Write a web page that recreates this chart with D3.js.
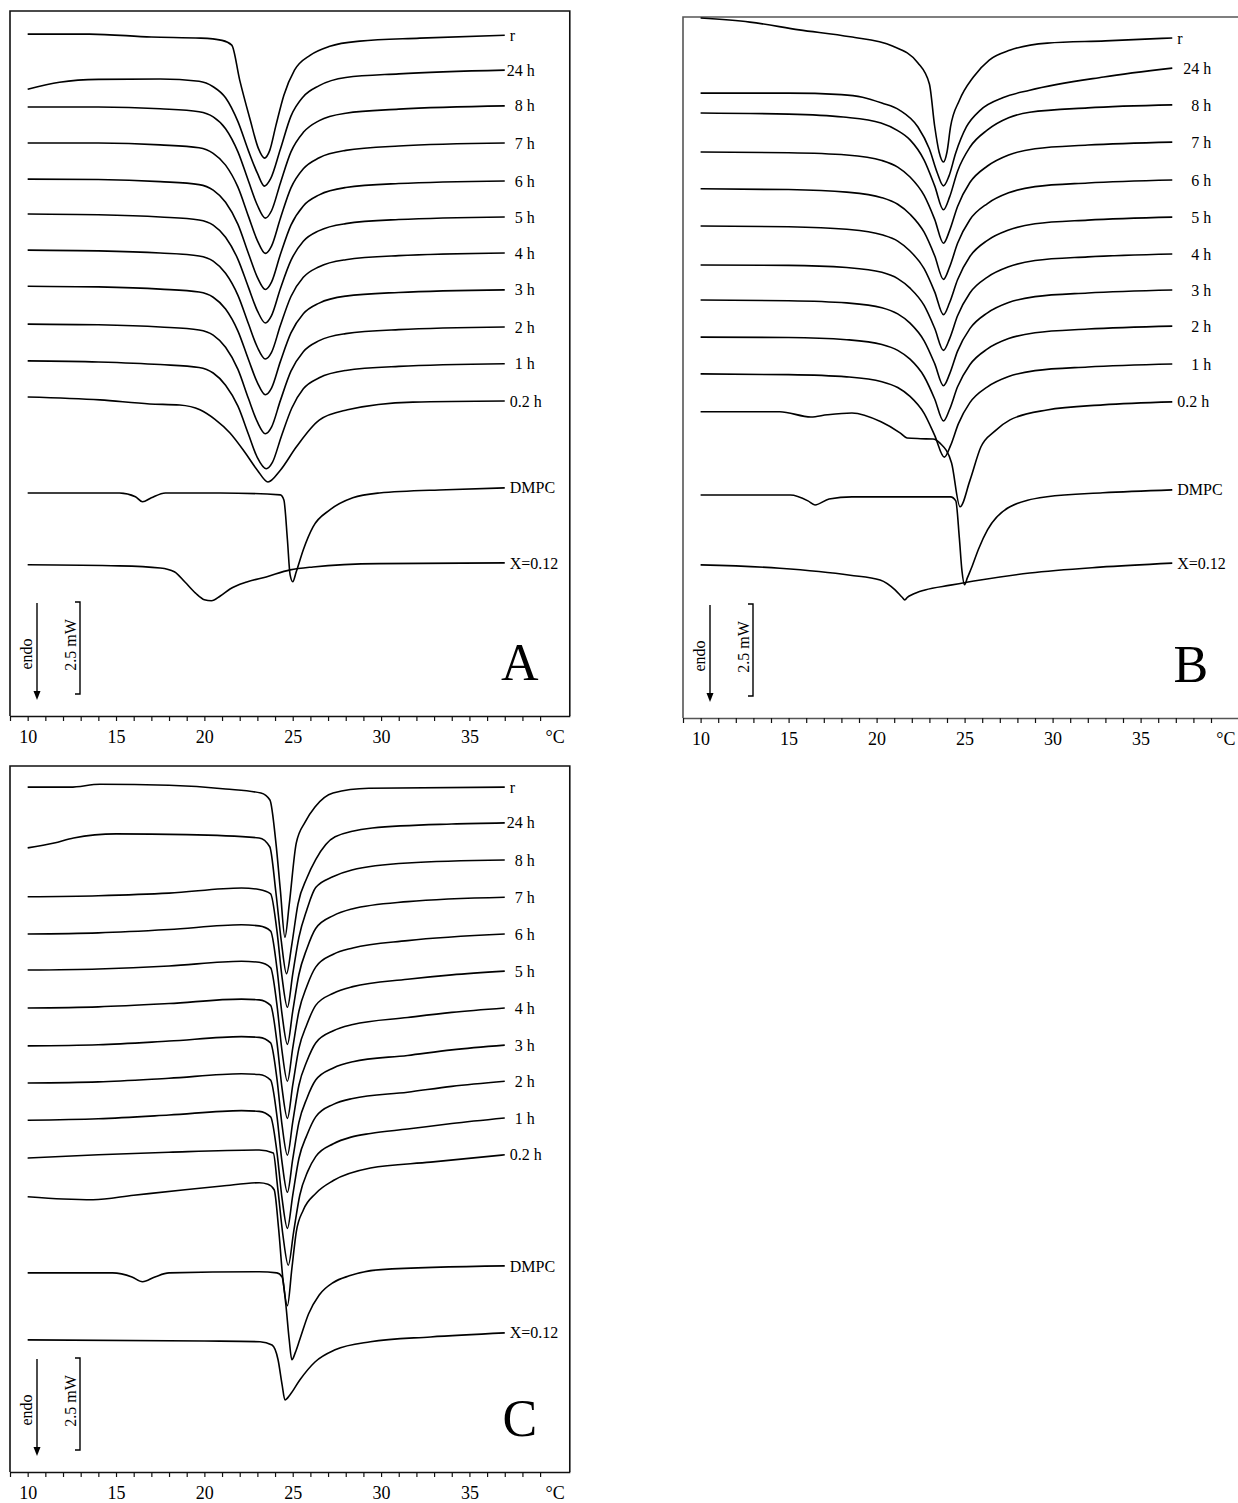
<!DOCTYPE html>
<html>
<head>
<meta charset="utf-8">
<script src="https://cdn.jsdelivr.net/npm/d3@7"></script>
<style>
body { margin: 0; background: #fff; }
text { font-family: "Liberation Serif", "DejaVu Serif", serif; fill: #000; }
</style>
</head>
<body>
<div id="chart"></div>
<script>
// DSC thermograms, three panels; each trace = [temperature °C, heat flow mW relative to its right end]
var names = ["r", "24 h", "8 h", "7 h", "6 h", "5 h", "4 h", "3 h", "2 h", "1 h", "0.2 h", "DMPC", "X=0.12"];
var xTicks = [9, 10, 11, 12, 13, 14, 15, 16, 17, 18, 19, 20, 21, 22, 23, 24, 25, 26, 27, 28, 29, 30, 31, 32, 33, 34, 35, 36, 37, 38, 39];
var xTickLabels = [10, 15, 20, 25, 30, 35];
var scaleBarMW = 2.5;

// vertical level (mW above the axis) of the right end of every trace
var levelsA = [18.5, 17.55, 16.58, 15.57, 14.54, 13.56, 12.58, 11.58, 10.57, 9.57, 8.56, 6.2, 4.16];
var levelsB = [18.48, 17.66, 16.66, 15.65, 14.62, 13.61, 12.61, 11.63, 10.65, 9.62, 8.59, 6.2, 4.21];
var levelsC = [18.61, 17.64, 16.63, 15.62, 14.62, 13.61, 12.61, 11.6, 10.62, 9.62, 8.62, 5.6, 3.78];

var curvesA = [
  [[10,0.03],[13.5,0.03],[17,-0.05],[19.8,-0.08],[21.0,-0.14],[21.55,-0.27],[22.0,-1.22],[22.6,-2.31],[23.05,-3.07],[23.4,-3.34],[23.7,-3.13],[24.05,-2.45],[24.5,-1.63],[25.1,-0.95],[26.0,-0.54],[27.1,-0.3],[28.8,-0.16],[32.2,-0.08],[37,0]],
  [[10,-0.52],[11.8,-0.33],[14,-0.25],[17.5,-0.24],[19.7,-0.3],[20.5,-0.45],[21.2,-0.75],[21.9,-1.4],[22.5,-2.2],[23.0,-2.8],[23.4,-3.15],[23.75,-2.95],[24.3,-2.15],[24.9,-1.25],[25.6,-0.72],[26.5,-0.42],[28,-0.2],[31,-0.1],[37,0]],
  [[10,-0.03],[14,-0.03],[17.5,-0.08],[19.7,-0.16],[20.5,-0.3],[21.2,-0.62],[21.9,-1.25],[22.5,-2.05],[23.0,-2.7],[23.45,-3.05],[23.8,-2.85],[24.3,-2.1],[24.9,-1.25],[25.6,-0.72],[26.5,-0.4],[28,-0.2],[31,-0.09],[37,0]],
  [[10,0],[14,0],[17.5,-0.05],[19.7,-0.13],[20.5,-0.28],[21.2,-0.6],[21.9,-1.2],[22.5,-2.0],[23.0,-2.65],[23.45,-3.0],[23.8,-2.8],[24.3,-2.05],[24.9,-1.22],[25.6,-0.7],[26.5,-0.4],[28,-0.2],[31,-0.08],[37,0]],
  [[10,0.05],[14,0.04],[17.5,-0.02],[19.7,-0.1],[20.5,-0.25],[21.2,-0.58],[21.9,-1.18],[22.5,-1.98],[23.0,-2.62],[23.45,-2.95],[23.8,-2.75],[24.3,-2.0],[24.9,-1.2],[25.6,-0.68],[26.5,-0.38],[28,-0.18],[31,-0.07],[37,0]],
  [[10,0.08],[14,0.06],[17.5,0],[19.7,-0.08],[20.5,-0.22],[21.2,-0.55],[21.9,-1.15],[22.5,-1.92],[23.0,-2.55],[23.45,-2.88],[23.8,-2.68],[24.3,-1.95],[24.9,-1.18],[25.6,-0.66],[26.5,-0.37],[28,-0.18],[31,-0.07],[37,0]],
  [[10,0.08],[14,0.06],[17.5,0],[19.7,-0.08],[20.5,-0.22],[21.2,-0.55],[21.9,-1.15],[22.5,-1.93],[23.0,-2.56],[23.45,-2.88],[23.8,-2.7],[24.3,-1.97],[24.9,-1.18],[25.6,-0.66],[26.5,-0.37],[28,-0.18],[31,-0.07],[37,0]],
  [[10,0.1],[14,0.08],[17.5,0.02],[19.7,-0.06],[20.5,-0.2],[21.2,-0.52],[21.9,-1.12],[22.5,-1.9],[23.0,-2.52],[23.45,-2.85],[23.8,-2.67],[24.3,-1.95],[24.9,-1.17],[25.6,-0.65],[26.5,-0.36],[28,-0.17],[31,-0.07],[37,0]],
  [[10,0.08],[14,0.06],[17.5,0],[19.7,-0.08],[20.5,-0.22],[21.2,-0.55],[21.9,-1.15],[22.5,-1.95],[23.0,-2.58],[23.45,-2.9],[23.8,-2.72],[24.3,-2.0],[24.9,-1.2],[25.6,-0.67],[26.5,-0.37],[28,-0.18],[31,-0.07],[37,0]],
  [[10,0.08],[14,0.05],[17.5,-0.02],[19.7,-0.1],[20.5,-0.25],[21.2,-0.58],[21.9,-1.15],[22.5,-1.92],[23.0,-2.55],[23.5,-2.85],[23.85,-2.68],[24.35,-1.98],[24.95,-1.2],[25.6,-0.68],[26.5,-0.38],[28,-0.18],[31,-0.07],[37,0]],
  [[10,0.11],[14.1,0.03],[16.9,-0.08],[18.6,-0.11],[19.75,-0.24],[20.6,-0.5],[21.45,-0.87],[22.3,-1.4],[23.0,-1.88],[23.6,-2.2],[24.3,-1.88],[25.2,-1.25],[26.5,-0.52],[28.1,-0.24],[31.8,-0.03],[37,0]],
  [[10,-0.14],[15.2,-0.14],[16.1,-0.24],[16.5,-0.38],[17.0,-0.27],[17.8,-0.14],[20.9,-0.14],[24.3,-0.19],[24.5,-0.33],[24.7,-1.41],[24.85,-2.36],[25.0,-2.55],[25.2,-2.28],[25.6,-1.68],[26.15,-1.06],[27.1,-0.6],[28.4,-0.27],[29.9,-0.14],[33.7,-0.05],[37,0]],
  [[10,-0.05],[15.2,-0.08],[17.5,-0.14],[18.3,-0.24],[18.9,-0.52],[19.5,-0.82],[20.0,-1.0],[20.4,-1.03],[20.9,-0.9],[21.45,-0.71],[22.4,-0.52],[23.5,-0.38],[24.85,-0.19],[26.15,-0.11],[29.9,-0.02],[37,0]]
];

var curvesB = [
  [[10,0.54],[12.8,0.43],[15.6,0.22],[18.5,0.03],[20.9,-0.22],[22.35,-0.68],[23.0,-1.25],[23.3,-2.4],[23.55,-3.1],[23.8,-3.37],[24.0,-3.1],[24.2,-2.42],[24.7,-1.7],[25.5,-1.06],[26.4,-0.6],[27.6,-0.33],[29.7,-0.14],[33,-0.08],[36.8,0]],
  [[10,-0.68],[15,-0.68],[18,-0.72],[19.2,-0.79],[20.3,-0.95],[21.3,-1.14],[22.35,-1.6],[23.0,-2.2],[23.45,-2.85],[23.8,-3.2],[24.1,-2.95],[24.5,-2.3],[25.1,-1.6],[25.9,-1.14],[27.2,-0.8],[28.7,-0.6],[32.9,-0.24],[36.8,0]],
  [[10,-0.22],[15,-0.25],[18.1,-0.33],[20.25,-0.49],[21.2,-0.7],[21.9,-0.95],[22.7,-1.5],[23.3,-2.2],[23.8,-2.85],[24.15,-2.5],[24.6,-1.8],[25.3,-1.15],[26.3,-0.68],[27.5,-0.35],[28.7,-0.2],[32,-0.08],[36.8,0]],
  [[10,-0.27],[15,-0.29],[18.3,-0.35],[20.3,-0.5],[21.2,-0.68],[21.9,-0.95],[22.7,-1.45],[23.3,-2.1],[23.8,-2.75],[24.15,-2.4],[24.6,-1.75],[25.3,-1.1],[26.3,-0.65],[27.5,-0.35],[29,-0.18],[32,-0.08],[36.8,0]],
  [[10,-0.24],[15,-0.26],[18.3,-0.33],[20.3,-0.48],[21.2,-0.66],[21.9,-0.93],[22.7,-1.42],[23.3,-2.06],[23.8,-2.7],[24.15,-2.36],[24.6,-1.72],[25.3,-1.08],[26.3,-0.64],[27.5,-0.35],[29,-0.18],[32,-0.08],[36.8,0]],
  [[10,-0.24],[15,-0.26],[18.3,-0.33],[20.3,-0.48],[21.2,-0.65],[21.9,-0.92],[22.7,-1.4],[23.3,-2.03],[23.8,-2.65],[24.15,-2.32],[24.6,-1.7],[25.3,-1.07],[26.3,-0.63],[27.5,-0.35],[29,-0.18],[32,-0.08],[36.8,0]],
  [[10,-0.3],[15,-0.31],[18.3,-0.37],[20.3,-0.5],[21.2,-0.67],[21.9,-0.93],[22.7,-1.4],[23.3,-2.02],[23.8,-2.62],[24.15,-2.3],[24.6,-1.68],[25.3,-1.06],[26.3,-0.63],[27.5,-0.35],[29,-0.18],[32,-0.08],[36.8,0]],
  [[10,-0.27],[15,-0.29],[18.3,-0.35],[20.3,-0.48],[21.2,-0.65],[21.9,-0.9],[22.7,-1.38],[23.3,-2.0],[23.8,-2.6],[24.15,-2.28],[24.6,-1.66],[25.3,-1.05],[26.3,-0.62],[27.5,-0.34],[29,-0.18],[32,-0.08],[36.8,0]],
  [[10,-0.3],[15,-0.31],[18.3,-0.37],[20.3,-0.5],[21.2,-0.66],[21.9,-0.9],[22.7,-1.37],[23.3,-1.98],[23.8,-2.58],[24.15,-2.26],[24.6,-1.65],[25.3,-1.05],[26.3,-0.62],[27.5,-0.34],[29,-0.18],[32,-0.08],[36.8,0]],
  [[10,-0.27],[15,-0.29],[18.3,-0.35],[20.3,-0.48],[21.2,-0.64],[21.9,-0.88],[22.7,-1.34],[23.3,-1.94],[23.85,-2.53],[24.2,-2.22],[24.65,-1.62],[25.3,-1.05],[26.3,-0.62],[27.5,-0.34],[29,-0.18],[32,-0.08],[36.8,0]],
  [[10,-0.27],[14.5,-0.27],[16.27,-0.41],[17.2,-0.35],[18.6,-0.3],[20.25,-0.54],[21.33,-0.84],[21.73,-0.98],[22.5,-1.0],[23.2,-1.01],[23.6,-1.12],[24.26,-1.66],[24.74,-2.85],[25.3,-2.14],[25.93,-1.22],[26.7,-0.8],[27.58,-0.49],[29.68,-0.22],[32.86,-0.08],[36.8,0]],
  [[10,-0.14],[15.1,-0.14],[16.1,-0.3],[16.5,-0.41],[17.3,-0.25],[18.6,-0.19],[21.3,-0.19],[24.2,-0.19],[24.5,-0.3],[24.7,-1.3],[24.85,-2.2],[25.0,-2.58],[25.15,-2.4],[25.4,-2.11],[25.8,-1.6],[26.3,-1.09],[27.58,-0.46],[29.68,-0.19],[32.86,-0.08],[36.8,0]],
  [[10,-0.05],[14.5,-0.14],[18.5,-0.33],[20.2,-0.46],[21.05,-0.73],[21.45,-0.93],[21.6,-1.0],[21.75,-0.93],[22.0,-0.86],[22.75,-0.73],[24.2,-0.6],[25.9,-0.46],[28.7,-0.27],[32.7,-0.11],[36.8,0]]
];

var curvesC = [
  [[10,0],[12.4,0],[14.1,0.08],[18,0.05],[21.2,-0.05],[23.2,-0.16],[23.71,-0.35],[24.05,-1.52],[24.3,-2.8],[24.56,-4.08],[24.8,-3.2],[25.2,-1.52],[25.7,-0.95],[26.26,-0.54],[27.28,-0.16],[29.3,-0.03],[37,0]],
  [[10,-0.68],[11.5,-0.55],[12.6,-0.41],[15,-0.3],[19,-0.32],[23.1,-0.41],[23.7,-0.65],[24.05,-1.9],[24.35,-3.2],[24.65,-4.1],[24.95,-3.3],[25.3,-2.2],[25.8,-1.5],[26.3,-1.0],[27.4,-0.38],[29.5,-0.14],[34,-0.03],[37,0]],
  [[10,-1.0],[14,-0.97],[18,-0.9],[22.1,-0.76],[23.1,-0.8],[23.75,-0.92],[24.1,-1.9],[24.4,-3.2],[24.7,-4.0],[25.0,-3.1],[25.35,-2.1],[25.8,-1.35],[26.3,-0.75],[27.3,-0.45],[28.35,-0.27],[31.5,-0.08],[37,0]],
  [[10,-1.0],[14,-0.97],[18,-0.88],[22.1,-0.75],[23.1,-0.78],[23.75,-0.92],[24.1,-1.9],[24.4,-3.2],[24.7,-4.0],[25.0,-3.1],[25.35,-2.1],[25.8,-1.4],[26.3,-0.85],[27.3,-0.5],[28.35,-0.32],[31.5,-0.12],[37,0]],
  [[10,-0.98],[14,-0.95],[18,-0.87],[22.1,-0.74],[23.1,-0.77],[23.75,-0.92],[24.1,-1.9],[24.4,-3.2],[24.7,-4.0],[25.0,-3.1],[25.35,-2.1],[25.8,-1.42],[26.3,-0.9],[27.3,-0.55],[28.4,-0.38],[31.5,-0.18],[37,0]],
  [[10,-1.0],[14,-0.97],[18,-0.88],[22.1,-0.76],[23.1,-0.78],[23.75,-0.93],[24.1,-1.9],[24.4,-3.2],[24.7,-4.0],[25.0,-3.1],[25.35,-2.1],[25.8,-1.45],[26.3,-0.93],[27.3,-0.6],[28.4,-0.42],[31.5,-0.22],[34,-0.1],[37,0]],
  [[10,-1.03],[14,-1.0],[18,-0.9],[22.1,-0.78],[23.1,-0.8],[23.75,-0.95],[24.1,-1.9],[24.4,-3.2],[24.7,-4.0],[25.0,-3.1],[25.35,-2.1],[25.8,-1.45],[26.3,-0.95],[27.3,-0.62],[28.4,-0.45],[31.5,-0.26],[34,-0.12],[37,0]],
  [[10,-1.03],[14,-1.0],[18,-0.9],[22.1,-0.78],[23.1,-0.8],[23.75,-0.95],[24.1,-1.9],[24.4,-3.2],[24.7,-4.0],[25.0,-3.1],[25.35,-2.1],[25.8,-1.45],[26.3,-0.95],[27.3,-0.62],[28.4,-0.45],[31.5,-0.28],[34,-0.13],[37,0]],
  [[10,-1.06],[14,-1.02],[18,-0.92],[22.1,-0.8],[23.1,-0.82],[23.75,-0.97],[24.1,-1.9],[24.4,-3.2],[24.7,-4.0],[25.0,-3.1],[25.35,-2.1],[25.8,-1.47],[26.3,-0.97],[27.3,-0.63],[28.4,-0.47],[31.5,-0.3],[34,-0.14],[37,0]],
  [[10,-1.09],[14,-1.0],[18,-0.93],[23.1,-0.87],[23.9,-0.95],[24.15,-1.9],[24.45,-3.2],[24.75,-4.0],[25.05,-3.1],[25.4,-2.1],[25.85,-1.45],[26.3,-1.05],[27.3,-0.7],[28.3,-0.52],[29.4,-0.42],[31.5,-0.3],[34,-0.15],[37,0]],
  [[10,-1.14],[12,-1.2],[13.7,-1.22],[16,-1.1],[18.9,-0.95],[21,-0.85],[23.1,-0.76],[23.6,-0.8],[23.95,-0.95],[24.2,-2.0],[24.45,-3.4],[24.7,-4.1],[24.95,-3.1],[25.2,-2.1],[25.6,-1.5],[26.3,-1.05],[27.3,-0.7],[29.4,-0.36],[32.8,-0.2],[37,0]],
  [[10,-0.19],[14.8,-0.19],[15.9,-0.3],[16.5,-0.43],[17.2,-0.3],[18,-0.19],[23.1,-0.16],[24.1,-0.19],[24.4,-0.3],[24.6,-1.0],[24.8,-2.0],[24.95,-2.55],[25.15,-2.35],[25.4,-2.0],[25.9,-1.3],[26.5,-0.79],[27.3,-0.45],[28.2,-0.27],[30,-0.1],[37,0]],
  [[10,-0.19],[20,-0.22],[23.15,-0.24],[23.83,-0.33],[24.17,-0.73],[24.4,-1.41],[24.56,-1.82],[24.85,-1.68],[25.4,-1.28],[26.26,-0.79],[27.4,-0.46],[29.4,-0.24],[32.8,-0.11],[37,0]]
];

var W = 1238, H = 1503;
var pxPerMW = 36.8;

var svg = d3.select("#chart").append("svg")
  .attr("width", W)
  .attr("height", H);

var panels = [
  {letter: "A", left: 10, top: 11, axisY: 716, pxDeg: 17.67, frame: "#111", curves: curvesA, levels: levelsA, hGap: 30},
  {letter: "B", left: 683, top: 17, axisY: 718, pxDeg: 17.6, frame: "#555", curves: curvesB, levels: levelsB, hGap: 39},
  {letter: "C", left: 10, top: 766, axisY: 1472, pxDeg: 17.67, frame: "#111", curves: curvesC, levels: levelsC, hGap: 30}
];

panels.forEach(drawPanel);

function drawPanel(p) {
  var right = p.left + 31.68 * p.pxDeg;
  var x = d3.scaleLinear().domain([9, 40.68]).range([p.left, right]);
  var y = d3.scaleLinear().domain([0, (p.axisY - p.top) / pxPerMW]).range([p.axisY, p.top]);
  var g = svg.append("g");

  // frame (left, top, right)
  g.append("path")
    .attr("d", "M" + p.left + "," + p.axisY + "V" + p.top + "H" + right + "V" + p.axisY)
    .attr("fill", "none")
    .attr("stroke", p.frame)
    .attr("stroke-width", 1.6);

  // temperature axis
  var axis = d3.axisBottom(x)
    .tickValues(xTicks)
    .tickSize(5)
    .tickSizeOuter(0)
    .tickFormat(function (d) { return xTickLabels.indexOf(d) >= 0 ? d : ""; });
  var ax = g.append("g")
    .attr("transform", "translate(0," + p.axisY + ")")
    .call(axis);
  ax.select(".domain").attr("stroke", p.frame).attr("stroke-width", 1.6);
  ax.selectAll(".tick line").attr("stroke", "#111").attr("stroke-width", 1.2);
  ax.selectAll(".tick text")
    .attr("y", 0)
    .attr("dy", null)
    .attr("transform", "translate(0,27)")
    .style("font-family", "'Liberation Serif', serif")
    .style("font-size", "18px")
    .attr("fill", "#000");
  g.append("text")
    .attr("x", x(39.85))
    .attr("y", p.axisY + 27)
    .attr("text-anchor", "middle")
    .style("font-size", "18px")
    .text("°C");

  // traces
  var line = d3.line()
    .x(function (d) { return x(d[0]); })
    .y(function (d) { return y(d[1]); })
    .curve(d3.curveMonotoneX);

  p.curves.forEach(function (c, i) {
    var lvl = p.levels[i];
    var pts = c.map(function (d) { return [d[0], lvl + d[1]]; });
    g.append("path")
      .datum(pts)
      .attr("d", line)
      .attr("fill", "none")
      .attr("stroke", "#000")
      .attr("stroke-width", 1.6);

    var last = pts[pts.length - 1];
    var lbl = names[i];
    var short = /^\d+ h$/.test(lbl);
    g.append("text")
      .attr("x", short ? x(last[0]) + p.hGap : x(last[0]) + 5)
      .attr("y", y(last[1]))
      .attr("dy", "0.35em")
      .attr("text-anchor", short ? "end" : "start")
      .style("font-size", "16px")
      .text(lbl);
  });

  // endo arrow
  var ax0 = p.left + 27;
  var yTop = y(0) - 113, yTip = y(0) - 16;
  g.append("line")
    .attr("x1", ax0).attr("x2", ax0)
    .attr("y1", yTop).attr("y2", yTip - 6)
    .attr("stroke", "#000").attr("stroke-width", 1.4);
  g.append("path")
    .attr("d", "M" + (ax0 - 3.5) + "," + (yTip - 9) + "L" + (ax0 + 3.5) + "," + (yTip - 9) + "L" + ax0 + "," + yTip + "Z")
    .attr("fill", "#000");
  g.append("text")
    .attr("transform", "translate(" + (ax0 - 5) + "," + (y(0) - 62) + ") rotate(-90)")
    .attr("text-anchor", "middle")
    .style("font-size", "16px")
    .text("endo");

  // 2.5 mW scale bar
  var bx = p.left + 70;
  var b0 = y(0) - 22;
  var b1 = b0 - (y(0) - y(scaleBarMW));
  g.append("path")
    .attr("d", "M" + (bx - 5) + "," + b1 + "H" + bx + "V" + b0 + "H" + (bx - 5))
    .attr("fill", "none")
    .attr("stroke", "#000")
    .attr("stroke-width", 1.4);
  g.append("text")
    .attr("transform", "translate(" + (bx - 4) + "," + ((b0 + b1) / 2 - 3) + ") rotate(-90)")
    .attr("text-anchor", "middle")
    .style("font-size", "16px")
    .text("2.5 mW");

  // panel letter
  g.append("text")
    .attr("x", x(39.1) - 22)
    .attr("y", p.axisY - 36)
    .attr("text-anchor", "middle")
    .style("font-size", "52px")
    .text(p.letter);
}
</script>
</body>
</html>
